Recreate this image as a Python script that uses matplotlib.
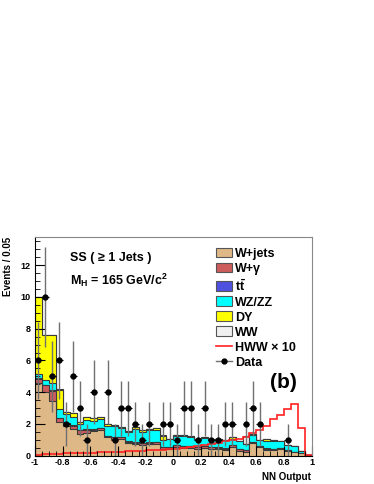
import numpy as np
import matplotlib
matplotlib.use("Agg")
import matplotlib.pyplot as plt
from matplotlib.patches import Patch
from matplotlib.lines import Line2D
from matplotlib.ticker import MultipleLocator

plt.rcParams['font.family'] = ['Liberation Sans', 'DejaVu Sans']
plt.rcParams['font.weight'] = 'bold'
plt.rcParams['axes.unicode_minus'] = False
plt.rcParams['mathtext.fontset'] = 'custom'
plt.rcParams['mathtext.rm'] = 'Liberation Sans:bold'
plt.rcParams['mathtext.bf'] = 'Liberation Sans:bold'
plt.rcParams['mathtext.it'] = 'Liberation Sans:bold:italic'

# binning: 40 bins of 0.05 on [-1, 1]
edges = np.linspace(-1, 1, 41)
centers = 0.5 * (edges[:-1] + edges[1:])

# background components (events per bin)
wjets = [4.55, 4.0, 3.45, 2.15, 1.85, 1.7, 1.35, 1.45, 1.55, 1.6,
         1.15, 1.05, 1.05, 0.78, 0.72, 0.67, 0.72, 0.75, 0.45, 0.45,
         0.55, 0.5, 0.5, 0.45, 0.5, 0.45, 0.42, 0.36, 0.57, 0.32,
         0.25, 0.78, 0.53, 0.36, 0.36, 0.4, 0.3, 0.21, 0.15, 0.03]
wgamma = [0.3, 0.45, 0.65, 0.2, 0.2, 0.2, 0.25, 0.2, 0.1, 0.12,
          0.1, 0.12, 0.1, 0.1, 0.1, 0.1, 0.1, 0.12, 0.08, 0.08,
          0.1, 0.1, 0.08, 0.08, 0.08, 0.08, 0.08, 0.08, 0.08, 0.08,
          0.08, 0.08, 0.08, 0.08, 0.06, 0.06, 0.05, 0.04, 0.03, 0.01]
ttbar = [0.02, 0.02, 0.02, 0.02, 0.02, 0.02, 0.02, 0.02, 0.02, 0.02,
         0.02, 0.02, 0.02, 0.02, 0.02, 0.02, 0.02, 0.02, 0.02, 0.02,
         0.02, 0.02, 0.02, 0.02, 0.02, 0.02, 0.02, 0.02, 0.02, 0.02,
         0.02, 0.02, 0.02, 0.02, 0.02, 0.02, 0.01, 0.01, 0.01, 0.0]
wzzz = [0.25, 0.3, 0.45, 0.6, 0.55, 0.5, 0.35, 0.55, 0.5, 0.55,
        0.6, 0.65, 0.55, 0.57, 0.84, 0.72, 0.76, 0.76, 0.42, 0.5,
        0.6, 0.65, 0.6, 0.5, 0.5, 0.45, 0.5, 0.5, 0.4, 0.48,
        0.38, 0.45, 0.35, 0.44, 0.5, 0.42, 0.32, 0.32, 0.12, 0.02]
dy = [4.9, 2.85, 3.05, 1.2, 0.15, 0.25, 0.15, 0.2, 0.2, 0.15,
      0.1, 0.1, 0.1, 0.1, 0.1, 0.1, 0.1, 0.08, 0.3, 0.02,
      0.05, 0.02, 0.02, 0.02, 0.05, 0.02, 0.02, 0.02, 0.1, 0.02,
      0.0, 0.02, 0.02, 0.14, 0.02, 0.02, 0.01, 0.01, 0.0, 0.0]
ww = [0.01] * 30 + [0.5] + [0.01] * 9

hww10 = [0.05, 0.1, 0.12, 0.13, 0.14, 0.15, 0.17, 0.18, 0.2, 0.21,
         0.22, 0.24, 0.25, 0.27, 0.29, 0.31, 0.34, 0.36, 0.38, 0.4,
         0.43, 0.48, 0.55, 0.62, 0.68, 0.75, 0.82, 0.9, 0.98, 1.08,
         1.2, 1.4, 1.62, 1.87, 2.29, 2.56, 2.96, 3.23, 1.72, 0.05]

data = [6, 10, 5, 6, 2, 5, 3, 1, 4, 0,
        4, 1, 3, 3, 2, 1, 2, 0, 2, 2,
        1, 3, 3, 1, 3, 1, 1, 2, 2, 0,
        2, 3, 2, 0, 0, 0, 1, 0, 0, 0]

names = ['W+jets', 'W+\u03b3', '$\\mathrm{t\\bar{t}}$', 'WZ/ZZ', 'DY', 'WW']
colors = ['#DEB887', '#CD5C5C', '#5050E0', '#00FFFF', '#FFFF00', '#F0F0F0']
comps = [wjets, wgamma, ttbar, wzzz, dy, ww]

fig = plt.figure(figsize=(3.74, 4.84), dpi=100)
ax = fig.add_axes([0.0936, 0.0585, 0.740, 0.4525])

# stacked histogram, drawn top layer first like a THStack
cums = np.cumsum(np.array(comps), axis=0)
for k in range(len(comps) - 1, -1, -1):
    ax.stairs(cums[k], edges, baseline=0, fill=True, facecolor=colors[k], edgecolor='none')
    ax.stairs(cums[k], edges, baseline=0, color='#3a3a3a', lw=0.8)

ax.stairs(hww10, edges, baseline=None, color='#ff2020', lw=1.2)

d = np.array(data, dtype=float)
m = d > 0
ax.errorbar(centers[m], d[m], yerr=np.sqrt(d[m]), fmt='none', ecolor='#707070', elinewidth=1.0)
ax.errorbar(centers[m], d[m], xerr=0.025, fmt='o', color='black', ms=3.5, elinewidth=0.8)

ax.set_xlim(-1, 1)
ax.set_ylim(0, 13.8)
ax.xaxis.set_major_locator(MultipleLocator(0.2))
ax.xaxis.set_minor_locator(MultipleLocator(0.05))
ax.yaxis.set_major_locator(MultipleLocator(2))
ax.yaxis.set_minor_locator(MultipleLocator(0.5))
ax.set_xticks(np.arange(-1, 1.01, 0.2))
ax.set_xticklabels(['-1', '-0.8', '-0.6', '-0.4', '-0.2', '0', '0.2', '0.4', '0.6', '0.8', '1'])
ax.tick_params(which='both', direction='in', labelsize=6.5, top=False, right=False)
ax.tick_params(which='major', length=7, width=0.8)
ax.tick_params(which='minor', length=3.5, width=0.6)
ax.tick_params(axis='x', pad=2)
ax.tick_params(axis='y', pad=3)
for s in ['top', 'right']:
    ax.spines[s].set_color('#888888')
for s in ['left', 'bottom']:
    ax.spines[s].set_color('black')

fig.text(8 / 374, 1 - 237 / 484, 'Events / 0.05', rotation=90, ha='center', va='top', fontsize=7)
fig.text(311 / 374, 1 - 477 / 484, 'NN Output', ha='right', va='center', fontsize=7)

fig.text(70 / 374, 1 - 258 / 484, 'SS ( \u2265 1 Jets )', ha='left', va='center', fontsize=9)
fig.text(70 / 374, 1 - 280 / 484, 'M$_{\\mathrm{H}}$ = 165 GeV/c$^{2}$', ha='left', va='center', fontsize=9)
fig.text(283 / 374, 1 - 383 / 484, '(b)', ha='center', va='center', fontsize=15)

handles = [Patch(facecolor=c, edgecolor='#555555', lw=0.8) for c in colors]
handles.append(Line2D([], [], color='#ff2020', lw=1.2))
handles.append(Line2D([], [], color='#707070', lw=1.0, marker='o', ms=3.5, mfc='black', mec='black'))
labels = names + ['HWW \u00d7 10', 'Data']
fig.legend(handles, labels, loc='upper left', bbox_to_anchor=(0.578, 0.4880), frameon=False,
           fontsize=9, handlelength=1.3, handleheight=0.8, handletextpad=0.2,
           labelspacing=0.23, borderpad=0, borderaxespad=0)

fig.savefig('out.png', dpi=100)
